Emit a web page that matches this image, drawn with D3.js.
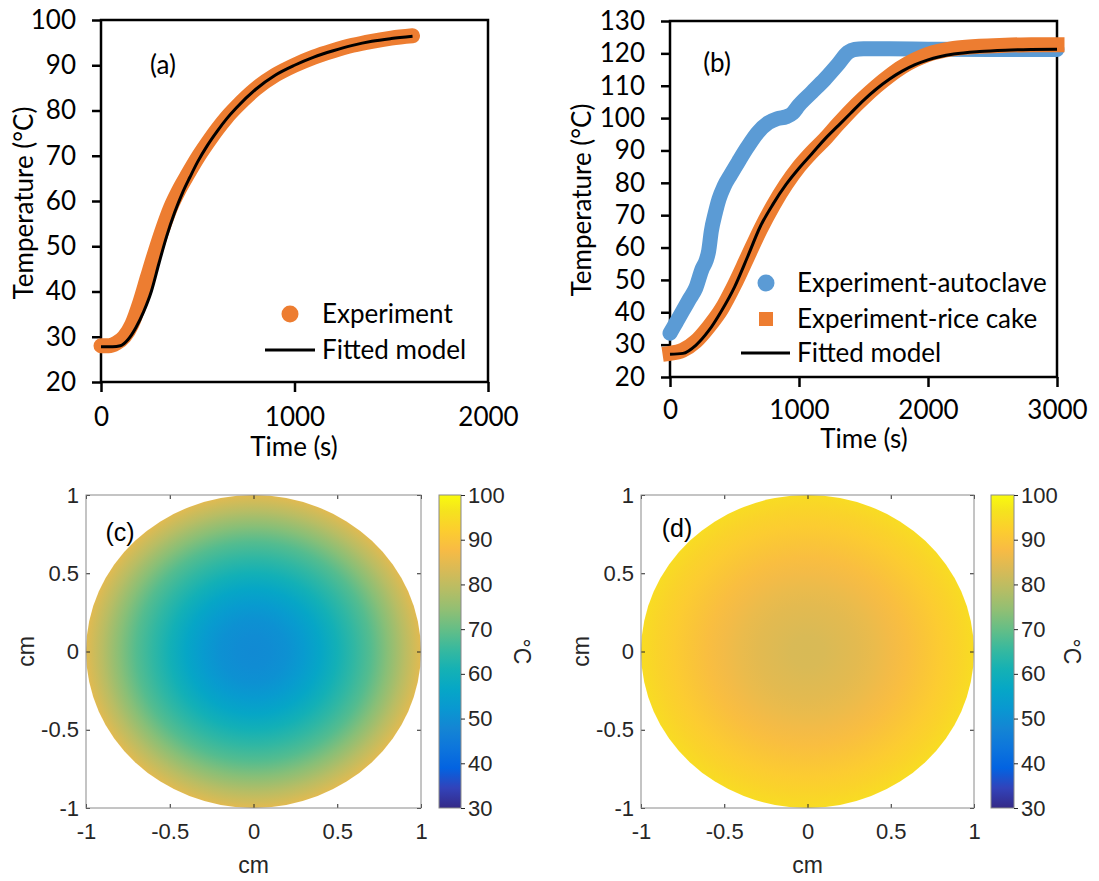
<!DOCTYPE html>
<html>
<head>
<meta charset="utf-8">
<script src="https://cdn.jsdelivr.net/npm/d3@7"></script>
<style>
  body { margin: 0; background: #fff; }
  svg { display: block; }
</style>
</head>
<body>
<svg id="fig" width="1099" height="881"></svg>
<script>
// ---------- (a) heating of the sample ----------
const timeA   = [0, 40, 80, 120, 160, 200, 240, 280, 320, 360, 400, 450, 500, 550, 600, 650, 700, 800, 900, 1000, 1100, 1200, 1300, 1400, 1500, 1610];
const expA    = [28, 28, 28.6, 30, 32.8, 37.5, 43.2, 48.8, 54, 58.6, 62.2, 66, 69.6, 72.8, 75.8, 78.5, 80.8, 84.8, 87.8, 90, 91.8, 93.2, 94.4, 95.3, 96, 96.5];
const fitTimeA = [0, 60, 100, 140, 180, 220, 260, 300, 340, 380, 420, 460, 500, 550, 600, 650, 700, 800, 900, 1000, 1100, 1200, 1300, 1400, 1500, 1610];
const fitA    = [27.8, 27.8, 28, 29.4, 32, 35.5, 40, 46.3, 52.3, 57.4, 61.7, 65.3, 68.7, 72.3, 75.4, 78.2, 80.6, 84.7, 87.8, 90, 91.8, 93.2, 94.4, 95.3, 95.9, 96.4];
const xTicksA = [0, 1000, 2000];
const yTicksA = [20, 30, 40, 50, 60, 70, 80, 90, 100];

// ---------- (b) autoclave and rice cake ----------
const timeAuto = [0, 50, 100, 150, 200, 250, 280, 300, 320, 350, 380, 420, 470, 530, 600, 680, 760, 830, 900, 950, 1000, 1100, 1200, 1300, 1380, 1430, 1500, 1700, 2000, 2500, 3000];
const autoclave = [33.5, 37, 40.5, 44, 47.5, 53.5, 56, 59, 65, 70.5, 75, 79, 82.5, 86.5, 91, 95.5, 98.5, 99.8, 100.4, 101.5, 104, 108, 112, 116.5, 120.3, 121.2, 121.4, 121.4, 121.3, 121.2, 121.2];
const timeRice = [0, 100, 200, 300, 400, 500, 600, 700, 800, 900, 1000, 1100, 1200, 1300, 1400, 1500, 1600, 1700, 1800, 1900, 2000, 2200, 2400, 2600, 2800, 3000];
const riceCake = [27.3, 28.3, 31, 35.5, 41, 48.5, 57, 65.5, 73, 79.5, 85, 89.5, 93.5, 98, 102.3, 106.2, 109.8, 113, 115.8, 118, 119.7, 121.5, 122.2, 122.5, 122.7, 122.7];
const timeFitB = [0, 100, 200, 300, 400, 500, 600, 700, 800, 900, 1000, 1100, 1200, 1300, 1400, 1500, 1600, 1700, 1800, 1900, 2000, 2200, 2400, 2600, 2800, 3000];
const fitB     = [27, 27.3, 29.8, 34.3, 40.5, 47.8, 57, 66.5, 73.5, 79.5, 84.5, 89, 93.5, 97.5, 101.5, 105.5, 109, 112, 114.5, 116.5, 118, 119.8, 120.6, 121, 121.2, 121.3];
const xTicksB = [0, 1000, 2000, 3000];
const yTicksB = [20, 30, 40, 50, 60, 70, 80, 90, 100, 110, 120, 130];

// ---------- (c), (d) radial temperature fields ----------
const radius   = [0, 0.1, 0.2, 0.3, 0.4, 0.5, 0.6, 0.7, 0.8, 0.9, 1.0];
const fieldC   = [49, 49.4, 50.7, 53, 56.5, 60.5, 64.5, 68.3, 73.5, 79, 84.5];
const fieldD   = [83.2, 83.3, 84, 84.8, 85.8, 87, 88.5, 90.2, 91.7, 93.3, 95];
const cmTicks  = [-1, -0.5, 0, 0.5, 1];
const barTicks = [30, 40, 50, 60, 70, 80, 90, 100];

// parula colour map, sampled every fourth entry
const parulaStops = ["#352a87", "#3243ba", "#0363e1", "#0d75dc", "#1485d4", "#0998d1", "#06a7c6", "#15b1b4",
                     "#38b99e", "#65be86", "#92bf73", "#b7bd64", "#d9ba56", "#f8bb44", "#fcce2e", "#f5e41d", "#f9fb0e"];
const parulaPos = [0, 4, 8, 12, 16, 20, 24, 28, 32, 36, 40, 44, 48, 52, 56, 60, 63].map(i => i / 63);

const orange = "#ED7D31", blue = "#5B9BD5";
const excelFont = "Lato, 'Open Sans', sans-serif";
const excelSize = 26;
const matFont = "'Liberation Sans', Arial, sans-serif";

const svg = d3.select("#fig");
const defs = svg.append("defs");

const parula = d3.scaleLinear().domain(parulaPos).range(parulaStops).interpolate(d3.interpolateRgb).clamp(true);
const tempColor = d3.scaleLinear().domain([30, 100]).range([0, 1]);
const colorOf = t => parula(tempColor(t));

function styleExcelAxis(g) {
  g.select(".domain").remove();
  g.selectAll(".tick line").attr("stroke", "#000").attr("stroke-width", 2.5);
  g.selectAll(".tick text").attr("fill", "#000").attr("font-family", excelFont).attr("font-size", excelSize);
}

function linePanel(p) {
  const g = svg.append("g");
  const x = d3.scaleLinear().domain(p.xDomain).range(p.xRange);
  const y = d3.scaleLinear().domain(p.yDomain).range(p.yRange);

  g.append("g").attr("transform", `translate(${p.xRange[0]},0)`)
    .call(d3.axisLeft(y).tickValues(p.yTicks).tickSize(9).tickPadding(16).tickFormat(d3.format("d")))
    .call(styleExcelAxis);
  g.append("g").attr("transform", `translate(0,${p.yRange[0]})`)
    .call(d3.axisBottom(x).tickValues(p.xTicks).tickSize(10).tickPadding(p.xPad).tickFormat(d3.format("d")))
    .call(styleExcelAxis);

  g.append("rect")
    .attr("x", p.xRange[0]).attr("y", p.yRange[1])
    .attr("width", p.xRange[1] - p.xRange[0]).attr("height", p.yRange[0] - p.yRange[1])
    .attr("fill", "none").attr("stroke", "#000").attr("stroke-width", 2.5);

  const line = d3.line().x(d => x(d[0])).y(d => y(d[1])).curve(d3.curveMonotoneX);
  p.series.forEach(s => {
    g.append("path")
      .datum(d3.zip(s.t, s.v))
      .attr("d", line)
      .attr("fill", "none")
      .attr("stroke", s.color)
      .attr("stroke-width", s.width)
      .attr("stroke-linecap", s.cap)
      .attr("stroke-linejoin", s.cap === "square" ? "miter" : "round");
  });

  const txt = (tx, ty, s, anchor) => g.append("text")
    .attr("x", tx).attr("y", ty).attr("text-anchor", anchor || "start")
    .attr("font-family", excelFont).attr("font-size", excelSize).attr("fill", "#000").text(s);

  txt(p.panelLabel[0], p.panelLabel[1] + 9, p.panelLabel[2], "middle");
  txt(p.xTitle[0], p.xTitle[1] + 9, "Time (s)", "middle");
  g.append("text")
    .attr("transform", `translate(${p.yTitle[0]},${p.yTitle[1]}) rotate(-90)`)
    .attr("text-anchor", "middle").attr("dy", "0.35em")
    .attr("font-family", excelFont).attr("font-size", excelSize).attr("fill", "#000")
    .text("Temperature (°C)");

  // legend
  p.legend.forEach(it => {
    if (it.kind === "dot") {
      g.append("circle").attr("cx", it.mx).attr("cy", it.y).attr("r", 8.5).attr("fill", it.color);
    } else if (it.kind === "square") {
      g.append("rect").attr("x", it.mx - 7).attr("y", it.y - 7).attr("width", 14).attr("height", 14).attr("fill", it.color);
    } else {
      g.append("line").attr("x1", it.x1).attr("x2", it.x2).attr("y1", it.y).attr("y2", it.y)
        .attr("stroke", "#000").attr("stroke-width", 3);
    }
    txt(it.tx, it.y + 9, it.label);
  });
}

linePanel({
  xDomain: [0, 2000], xRange: [101, 488], yDomain: [20, 100], yRange: [382, 20],
  xTicks: xTicksA, yTicks: yTicksA, xPad: 16,
  panelLabel: [163, 65, "(a)"], xTitle: [294, 447], yTitle: [24, 203],
  series: [
    { t: timeA, v: expA, color: orange, width: 15, cap: "round" },
    { t: fitTimeA, v: fitA, color: "#000", width: 3, cap: "butt" }
  ],
  legend: [
    { kind: "dot", mx: 290, y: 314, color: orange, tx: 322, label: "Experiment" },
    { kind: "line", x1: 265, x2: 315, y: 350, tx: 322, label: "Fitted model" }
  ]
});

linePanel({
  xDomain: [0, 3000], xRange: [670, 1057], yDomain: [20, 130], yRange: [377, 21],
  xTicks: xTicksB, yTicks: yTicksB, xPad: 14,
  panelLabel: [717, 63, "(b)"], xTitle: [864, 439], yTitle: [582, 200],
  series: [
    { t: timeAuto, v: autoclave, color: blue, width: 15, cap: "round" },
    { t: timeRice, v: riceCake, color: orange, width: 15, cap: "square" },
    { t: timeFitB, v: fitB, color: "#000", width: 3, cap: "butt" }
  ],
  legend: [
    { kind: "dot", mx: 766, y: 283, color: blue, tx: 797, label: "Experiment-autoclave" },
    { kind: "square", mx: 766, y: 319, color: orange, tx: 797, label: "Experiment-rice cake" },
    { kind: "line", x1: 741, x2: 790, y: 353, tx: 797, label: "Fitted model" }
  ]
});

// ---------- heat maps ----------
function styleMatAxis(g) {
  g.select(".domain").remove();
  g.selectAll(".tick line").attr("stroke", "#262626").attr("stroke-width", 1);
  g.selectAll(".tick text").attr("fill", "#262626").attr("font-family", matFont).attr("font-size", 22);
}

function heatPanel(p) {
  const g = svg.append("g");
  const x = d3.scaleLinear().domain([-1, 1]).range(p.xRange);
  const y = d3.scaleLinear().domain([-1, 1]).range(p.yRange);
  const fmt = d => (d === 0 ? "0" : d3.format("")(d)).replace("−", "-");

  // radial field drawn as an elliptical gradient over the disc
  const gid = "field-" + p.id;
  const grad = defs.append("radialGradient").attr("id", gid);
  grad.selectAll("stop").data(d3.zip(radius, p.field)).join("stop")
    .attr("offset", d => d[0]).attr("stop-color", d => colorOf(d[1]));
  g.append("ellipse")
    .attr("cx", x(0)).attr("cy", y(0))
    .attr("rx", x(1) - x(0)).attr("ry", y(-1) - y(0))
    .attr("fill", `url(#${gid})`);

  // box with inward ticks
  g.append("g").attr("transform", `translate(${p.xRange[0]},0)`)
    .call(d3.axisLeft(y).tickValues(cmTicks).tickSize(-4).tickPadding(7).tickFormat(fmt)).call(styleMatAxis);
  g.append("g").attr("transform", `translate(${p.xRange[1]},0)`)
    .call(d3.axisRight(y).tickValues(cmTicks).tickSize(-4).tickFormat("")).call(styleMatAxis);
  g.append("g").attr("transform", `translate(0,${p.yRange[0]})`)
    .call(d3.axisBottom(x).tickValues(cmTicks).tickSize(-4).tickPadding(15).tickFormat(fmt)).call(styleMatAxis);
  g.append("g").attr("transform", `translate(0,${p.yRange[1]})`)
    .call(d3.axisTop(x).tickValues(cmTicks).tickSize(-4).tickFormat("")).call(styleMatAxis);
  g.append("rect")
    .attr("x", p.xRange[0]).attr("y", p.yRange[1])
    .attr("width", p.xRange[1] - p.xRange[0]).attr("height", p.yRange[0] - p.yRange[1])
    .attr("fill", "none").attr("stroke", "#8a8a8a").attr("stroke-width", 1);

  g.append("text").attr("x", x(0)).attr("y", p.yRange[0] + 65)
    .attr("text-anchor", "middle").attr("font-family", matFont).attr("font-size", 23).attr("fill", "#262626").text("cm");
  g.append("text").attr("transform", `translate(${p.yLabelX},${y(0)}) rotate(-90)`)
    .attr("text-anchor", "middle").attr("dy", "0.35em")
    .attr("font-family", matFont).attr("font-size", 23).attr("fill", "#262626").text("cm");
  g.append("text").attr("x", p.label[0]).attr("y", p.label[1] + 9)
    .attr("text-anchor", "middle").attr("font-family", matFont).attr("font-size", 25)
    .attr("fill", "#000").text(p.label[2]);

  // colour bar
  const cb = d3.scaleLinear().domain([30, 100]).range(p.yRange);
  const bid = "bar-" + p.id;
  const bg = defs.append("linearGradient").attr("id", bid)
    .attr("x1", 0).attr("x2", 0).attr("y1", 1).attr("y2", 0);
  bg.selectAll("stop").data(d3.zip(parulaPos, parulaStops)).join("stop")
    .attr("offset", d => d[0]).attr("stop-color", d => d[1]);
  g.append("rect").attr("x", p.cbX[0]).attr("y", p.yRange[1])
    .attr("width", p.cbX[1] - p.cbX[0]).attr("height", p.yRange[0] - p.yRange[1])
    .attr("fill", `url(#${bid})`).attr("stroke", "#8a8a8a").attr("stroke-width", 1);
  g.append("g").attr("transform", `translate(${p.cbX[1]},0)`)
    .call(d3.axisRight(cb).tickValues(barTicks).tickSize(4).tickPadding(3).tickFormat(d3.format("d")))
    .call(styleMatAxis);
  g.append("text").attr("transform", `translate(${p.unitX},${y(0)}) rotate(90)`)
    .attr("text-anchor", "middle").attr("dy", "0.35em")
    .attr("font-family", matFont).attr("font-size", 23).attr("fill", "#262626").text("°C");
}

heatPanel({ id: "c", field: fieldC, xRange: [86, 421], yRange: [808, 495], cbX: [439, 461],
            yLabelX: 26, unitX: 522, label: [120, 532, "(c)"] });
heatPanel({ id: "d", field: fieldD, xRange: [641, 974], yRange: [808, 495], cbX: [991, 1014],
            yLabelX: 581, unitX: 1072, label: [677, 528, "(d)"] });
</script>
</body>
</html>
